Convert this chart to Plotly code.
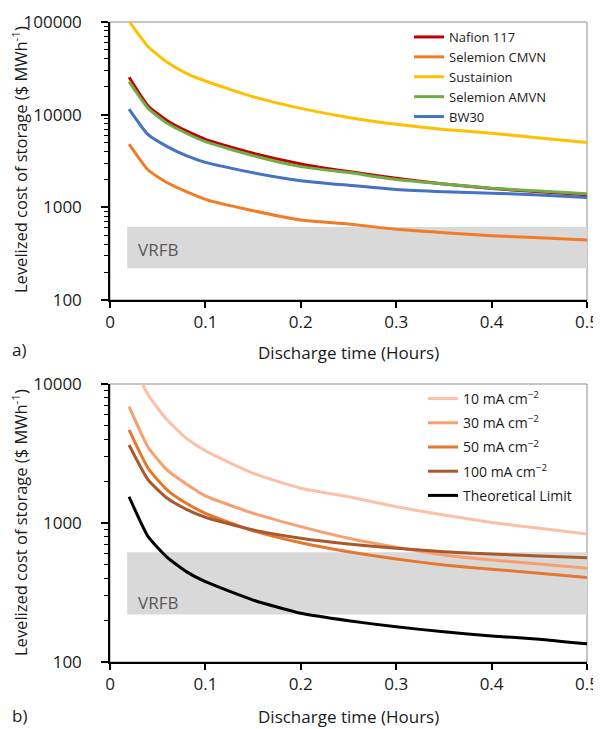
import math
import plotly.graph_objects as go

# ---------------- data ----------------
hours = [0.02, 0.04, 0.06, 0.08, 0.10, 0.15, 0.20, 0.25, 0.30, 0.35, 0.40, 0.45, 0.50]

# panel a) membranes
nafion117 = [25300, 12400, 8610, 6670, 5420, 3830, 2940, 2430, 2060, 1790, 1600, 1470, 1370]
selemion_cmvn = [4820, 2530, 1840, 1475, 1220, 920, 730, 660, 579, 532, 494, 470, 444]
sustainion = [102000, 54000, 36700, 27900, 23100, 15600, 11700, 9340, 7870, 6930, 6300, 5600, 5010]
selemion_amvn = [22700, 11700, 8070, 6300, 5110, 3610, 2750, 2370, 2000, 1790, 1610, 1500, 1400]
bw30 = [11500, 6080, 4520, 3610, 3060, 2360, 1940, 1730, 1560, 1475, 1420, 1360, 1280]

# panel b) current densities
ma10 = [16000, 8330, 5500, 4070, 3310, 2280, 1780, 1545, 1310, 1140, 1010, 916, 833]
ma30 = [6870, 3510, 2400, 1910, 1565, 1175, 942, 777, 669, 589, 542, 507, 472]
ma50 = [4670, 2470, 1725, 1385, 1175, 880, 721, 621, 550, 499, 465, 435, 406]
ma100 = [3640, 2040, 1505, 1255, 1100, 890, 777, 706, 658, 621, 598, 579, 563]
theory = [1545, 797, 566, 447, 378, 279, 224, 198, 179, 165, 154, 146, 135]

# VRFB reference band
vrfb_x = [0.018, 0.5]
vrfb_low = 220
vrfb_high = 615

names_a = ["Nafion 117", "Selemion CMVN", "Sustainion", "Selemion AMVN", "BW30"]
series_a = [nafion117, selemion_cmvn, sustainion, selemion_amvn, bw30]
colors_a = ["#C00000", "#F47B25", "#FFC000", "#70AD47", "#4472C4"]

names_b = ["10 mA cm<sup>\u22122</sup>", "30 mA cm<sup>\u22122</sup>", "50 mA cm<sup>\u22122</sup>",
           "100 mA cm<sup>\u22122</sup>", "Theoretical Limit"]
series_b = [ma10, ma30, ma50, ma100, theory]
colors_b = ["#FBC0A6", "#F89F6E", "#E5772E", "#A9592A", "#000000"]

x_ticks = [0, 0.1, 0.2, 0.3, 0.4, 0.5]
x_ticklabels = ["0", "0.1", "0.2", "0.3", "0.4", "0.5"]
ya_ticks = [100, 1000, 10000, 100000]
ya_ticklabels = ["100", "1000", "10000", "100000"]
yb_ticks = [100, 1000, 10000]
yb_ticklabels = ["100", "1000", "10000"]

# ---------------- figure ----------------
FONT = "Open Sans"
TXT = "#1a1a1a"
OFF = 8                    # page body margin
W, H = 601 - OFF, 729 - OFF


def px(xp):
    return (xp - OFF) / W


def py(yp):
    return 1 - (yp - OFF) / H


fig = go.Figure()


def band(xa, ya):
    fig.add_trace(go.Scatter(
        x=[vrfb_x[0], vrfb_x[1], vrfb_x[1], vrfb_x[0], vrfb_x[0]],
        y=[vrfb_low, vrfb_low, vrfb_high, vrfb_high, vrfb_low],
        fill="toself", fillcolor="#D9D9D9", line=dict(width=0),
        mode="lines", hoverinfo="skip", showlegend=False,
        xaxis=xa, yaxis=ya))


band("x", "y")
for n, s, c in zip(names_a, series_a, colors_a):
    fig.add_trace(go.Scatter(x=hours, y=s, name=n, mode="lines",
                             line=dict(color=c, width=3, shape="spline", smoothing=0.5),
                             xaxis="x", yaxis="y", legend="legend"))

band("x2", "y2")
for i, (n, s, c) in enumerate(zip(names_b, series_b, colors_b)):
    fig.add_trace(go.Scatter(x=hours, y=s, name=n, mode="lines",
                             line=dict(color=c, width=3, shape="spline", smoothing=0.5),
                             xaxis="x2", yaxis="y2", legend="legend2",
                             legendgroup="g%d" % i))

xdom = [px(110), px(587)]
ydom_a = [py(300), py(22)]
ydom_b = [py(662), py(384)]


def xaxis_cfg(anchor):
    return dict(domain=xdom, anchor=anchor, range=[0, 0.5], showgrid=False, zeroline=False,
                automargin=False,
                showline=True, linecolor="black", linewidth=1.5,
                ticks="outside", ticklen=6, tickwidth=1.5, tickcolor="black",
                tickvals=x_ticks, ticktext=x_ticklabels,
                tickfont=dict(family=FONT, size=17, color=TXT))


def yaxis_cfg(anchor, dom, rng, tv, tt):
    return dict(domain=dom, anchor=anchor, type="log", range=rng, showgrid=False, zeroline=False,
                automargin=False,
                showline=True, linecolor="black", linewidth=1.5,
                ticks="outside", ticklen=7, tickwidth=1.5, tickcolor="black",
                tickvals=tv, ticktext=tt, ticklabelstandoff=16,
                tickfont=dict(family=FONT, size=17, color=TXT),
                minor=dict(ticks="outside", ticklen=4, tickwidth=1, tickcolor="black",
                           dtick="D1", showgrid=False))


fig.update_layout(
    width=W, height=H,
    margin=dict(l=0, r=0, t=0, b=0, autoexpand=False),
    paper_bgcolor="white", plot_bgcolor="white",
    font=dict(family=FONT, color=TXT),
    xaxis=xaxis_cfg("y"),
    yaxis=yaxis_cfg("x", ydom_a, [2, 5], ya_ticks, ya_ticklabels),
    xaxis2=xaxis_cfg("y2"),
    yaxis2=yaxis_cfg("x2", ydom_b, [2, 4], yb_ticks, yb_ticklabels),
    legend=dict(x=px(409), y=py(22), xanchor="left", yanchor="top",
                bgcolor="rgba(0,0,0,0)", font=dict(family=FONT, size=13, color=TXT),
                itemwidth=30, tracegroupgap=0),
    legend2=dict(x=px(423), y=py(383), xanchor="left", yanchor="top",
                 bgcolor="rgba(0,0,0,0)", font=dict(family=FONT, size=14, color=TXT),
                 itemwidth=30, tracegroupgap=3),
    showlegend=True,
)

# grey frame on top / right
for xr, yr in (("x domain", "y domain"), ("x2 domain", "y2 domain")):
    fig.add_shape(type="rect", xref=xr, yref=yr, x0=0, x1=1, y0=0, y1=1,
                  line=dict(color="#8C8C8C", width=1), layer="below")

ann = []
# VRFB labels
ann.append(dict(x=0.027, y=math.log10(350), xref="x", yref="y", text="VRFB", showarrow=False,
                xanchor="left", yanchor="middle", font=dict(family=FONT, size=17, color="#595959")))
ann.append(dict(x=0.027, y=math.log10(268), xref="x2", yref="y2", text="VRFB", showarrow=False,
                xanchor="left", yanchor="middle", font=dict(family=FONT, size=17, color="#595959")))
# axis titles
ytitle = "Levelized cost of storage ($ MWh<sup>-1</sup>)"
for yc in (160, 523):
    ann.append(dict(x=px(20), y=py(yc), xref="paper", yref="paper", text=ytitle, textangle=-90,
                    showarrow=False, xanchor="center", yanchor="middle",
                    font=dict(family=FONT, size=16.5, color=TXT)))
for yc in (352, 716):
    ann.append(dict(x=px(348.5), y=py(yc), xref="paper", yref="paper", text="Discharge time (Hours)",
                    showarrow=False, xanchor="center", yanchor="middle",
                    font=dict(family=FONT, size=17, color=TXT)))
for t, yc in (("a)", 349), ("b)", 715)):
    ann.append(dict(x=px(10), y=py(yc), xref="paper", yref="paper", text=t,
                    showarrow=False, xanchor="left", yanchor="middle",
                    font=dict(family=FONT, size=17, color=TXT)))
fig.update_layout(annotations=ann)

fig.write_html("out.html")
